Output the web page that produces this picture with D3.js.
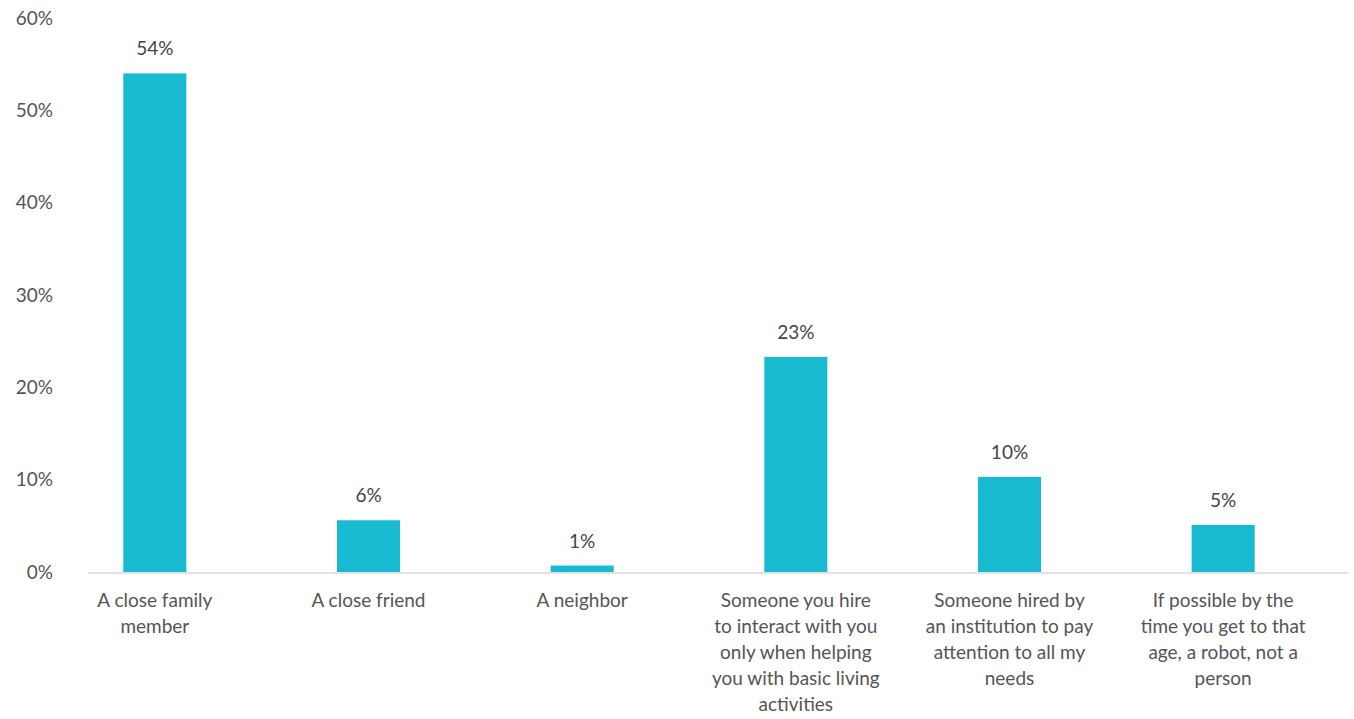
<!DOCTYPE html>
<html><head><meta charset="utf-8">
<script src="https://cdn.jsdelivr.net/npm/d3@7"></script>
<style>body{margin:0;background:#fff;}svg{display:block;font-family:Lato,"Open Sans",sans-serif;}</style>
</head><body>
<svg id="c" width="1354" height="719"></svg>
<script>
const categories = [
  ["A close family", "member"],
  ["A close friend"],
  ["A neighbor"],
  ["Someone you hire", "to interact with you", "only when helping", "you with basic living", "activities"],
  ["Someone hired by", "an institution to pay", "attention to all my", "needs"],
  ["If possible by the", "time you get to that", "age, a robot, not a", "person"]
];
const values = [54, 5.6, 0.7, 23.3, 10.3, 5.1];
const valueLabels = ["54%", "6%", "1%", "23%", "10%", "5%"];
const yTicks = [0, 10, 20, 30, 40, 50, 60];

const svg = d3.select("#c");
const x = d3.scaleBand().domain(d3.range(categories.length)).range([48, 1330]).paddingInner(0.705).paddingOuter(0.3525);
const y = d3.scaleLinear().domain([0, 60]).range([572, 18]);
const color = "#17bad1", text = "#555";

// y tick labels
svg.append("g").selectAll("text").data(yTicks).join("text")
  .attr("x", 53).attr("y", d => y(d)).attr("dy", "0.35em")
  .attr("text-anchor", "end").attr("font-size", 19).attr("fill", text)
  .text(d => d + "%");

// bars
svg.append("g").selectAll("rect").data(values).join("rect")
  .attr("x", (d, i) => x(i)).attr("width", x.bandwidth())
  .attr("y", d => y(d)).attr("height", d => y(0) - y(d))
  .attr("fill", color);

// axis line
svg.append("line").attr("x1", 88).attr("x2", 1348).attr("y1", y(0) + 1).attr("y2", y(0) + 1)
  .attr("stroke", "#d9d9d9").attr("stroke-width", 1.5);

// value labels
svg.append("g").selectAll("text").data(values).join("text")
  .attr("x", (d, i) => x(i) + x.bandwidth() / 2).attr("y", d => y(d) - 18)
  .attr("text-anchor", "middle").attr("font-size", 19).attr("fill", "#444")
  .text((d, i) => valueLabels[i]);

// category labels
const cg = svg.append("g").selectAll("text").data(categories).join("text")
  .attr("text-anchor", "middle").attr("font-size", 19).attr("fill", text);
cg.each(function(lines, i) {
  d3.select(this).selectAll("tspan").data(lines).join("tspan")
    .attr("x", x(i) + x.bandwidth() / 2)
    .attr("y", (l, j) => 607 + j * 26)
    .text(l => l);
});
</script>
</body></html>
